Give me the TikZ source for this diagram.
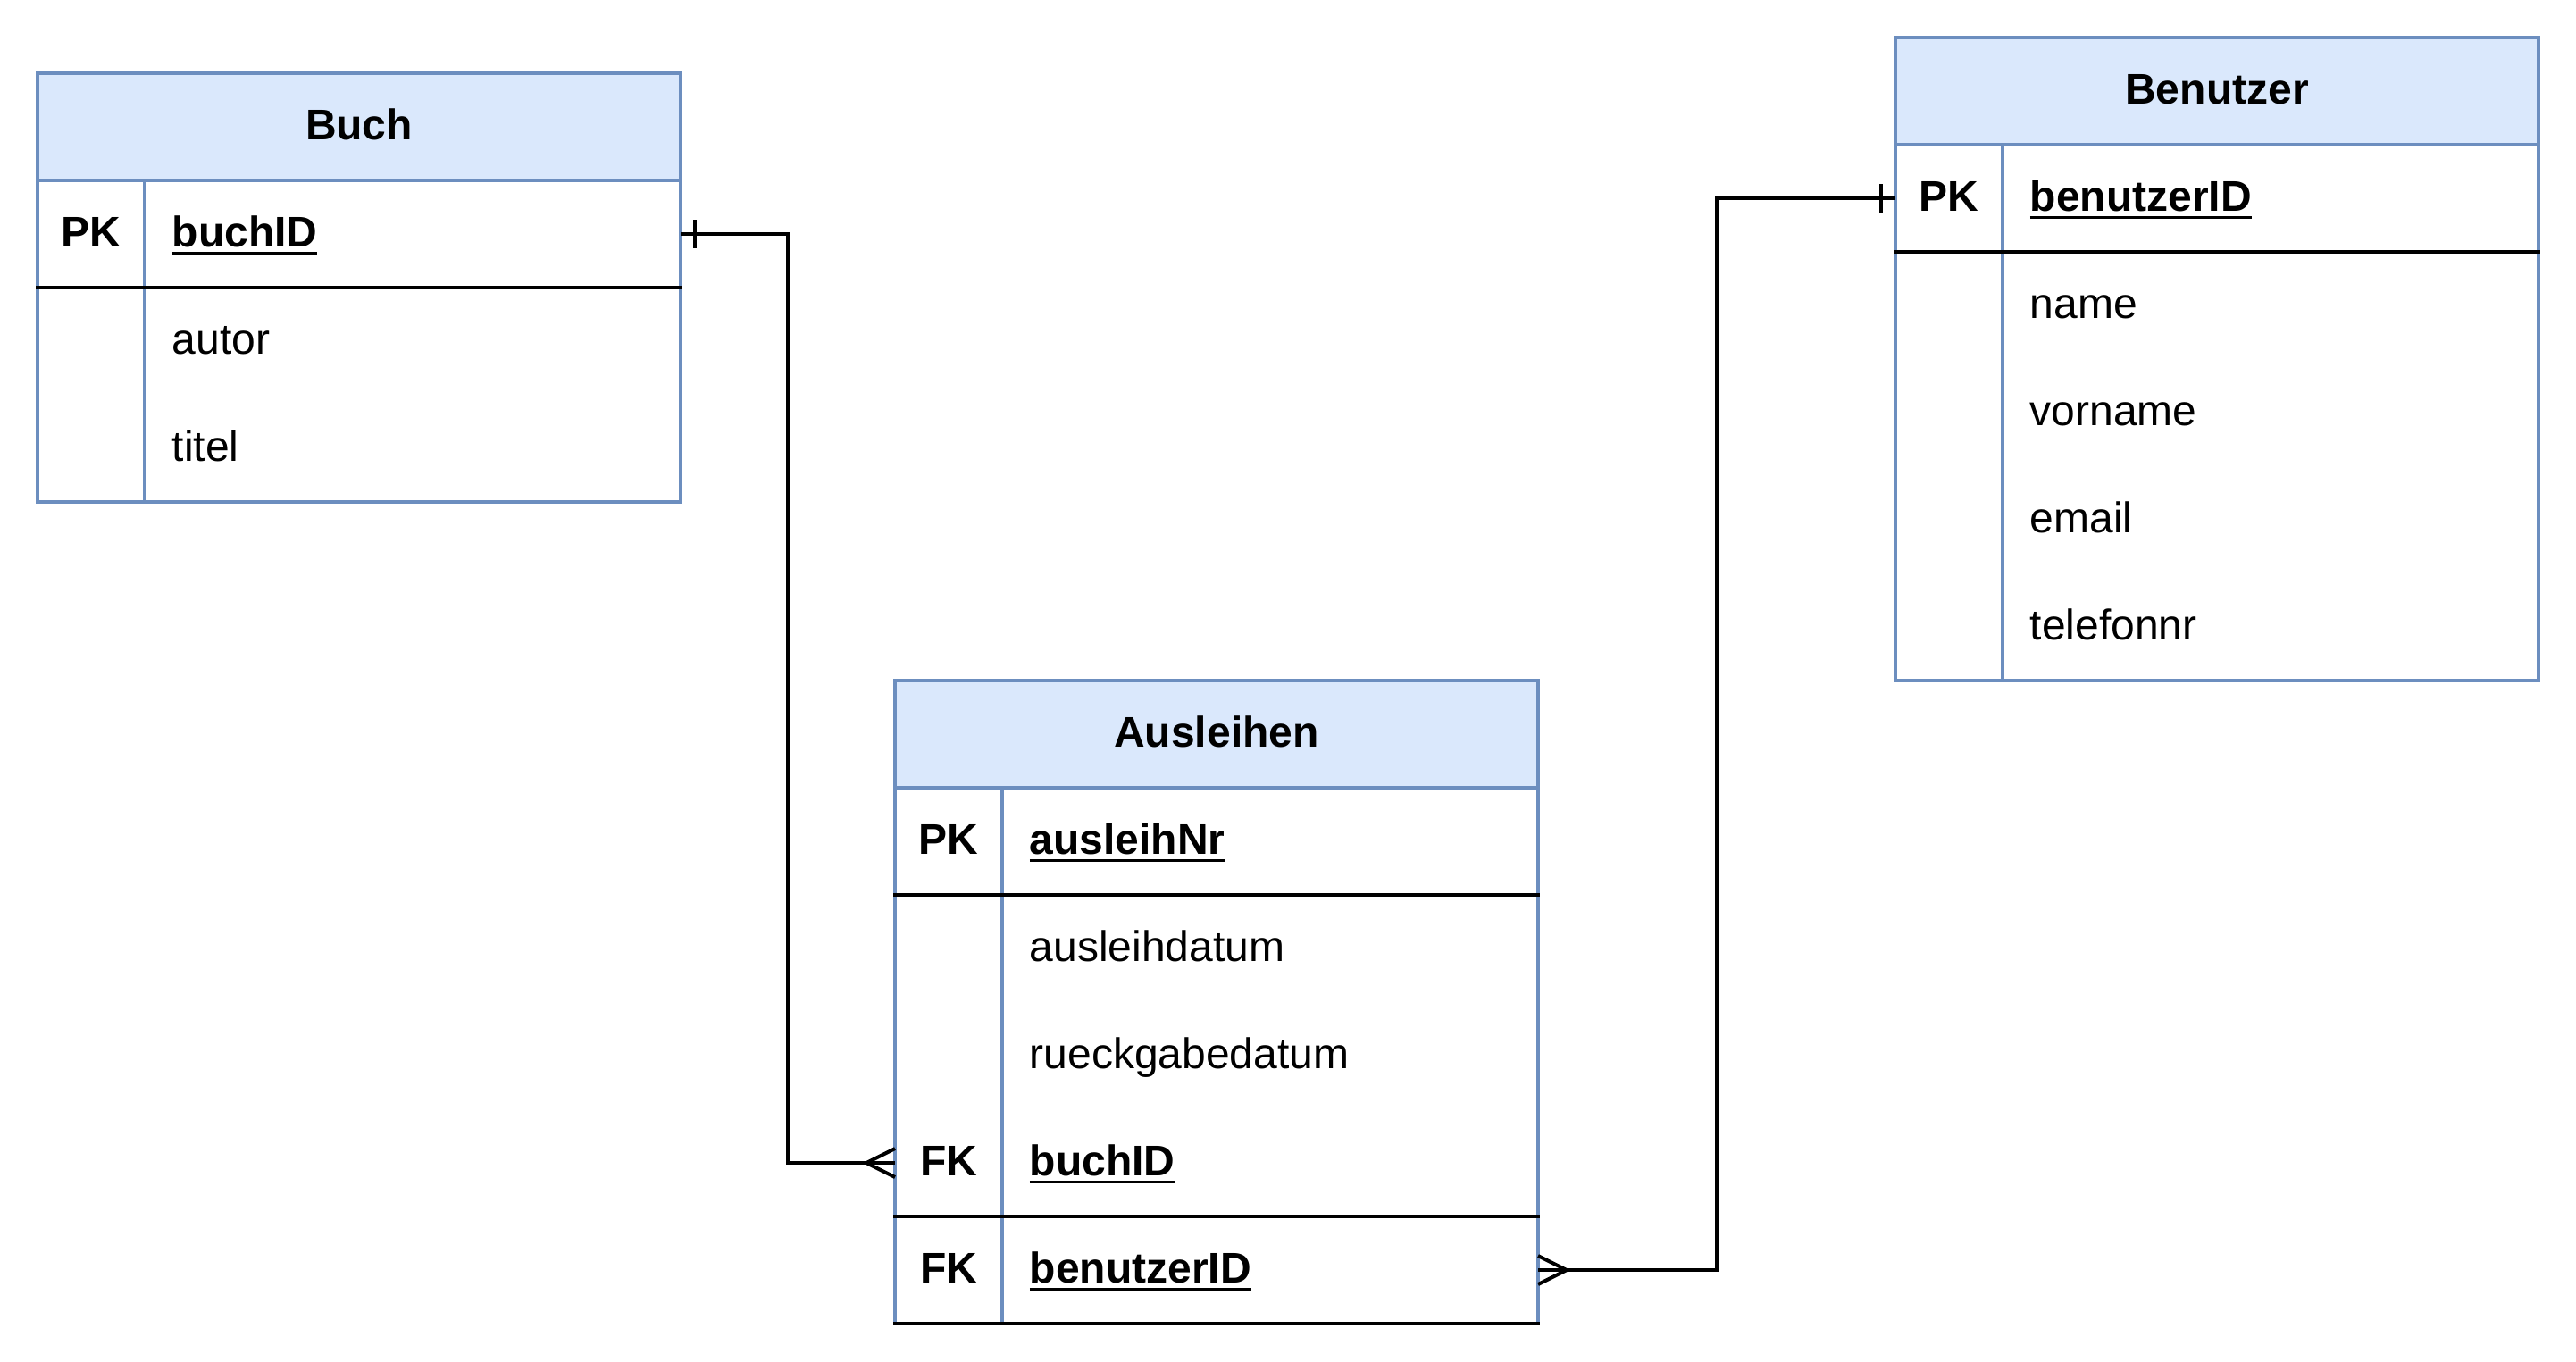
\documentclass[tikz,border=0pt]{standalone}
\usepackage{fontspec}
\setmainfont{Liberation Sans}
\definecolor{erblue}{HTML}{6C8EBF}
\definecolor{erfill}{HTML}{DAE8FC}
\newcommand\ulbox[1]{\setbox0\hbox{#1}\rlap{\rule[-2.2pt]{\wd0}{0.75pt}}\box0}
\tikzset{
  hdr/.style={draw=erblue, fill=erfill, line width=1pt, minimum width=180pt, minimum height=30pt, inner sep=0pt, outer sep=0pt, anchor=north west},
  rowbox/.style={minimum width=180pt, minimum height=30pt, inner sep=0pt, outer sep=0pt, anchor=north west},
  titletxt/.style={font=\fontsize{12}{14.4}\selectfont\bfseries, anchor=base, inner sep=0pt},
  keytxt/.style={font=\fontsize{12}{14.4}\selectfont\bfseries, anchor=base, inner sep=0pt},
  attrtxt/.style={font=\fontsize{12}{14.4}\selectfont, anchor=base west, inner sep=0pt},
  pktxt/.style={font=\fontsize{12}{14.4}\selectfont\bfseries, anchor=base west, inner sep=0pt},
  outline/.style={draw=erblue, line width=1pt},
  sepline/.style={draw=black, line width=1pt},
  conn/.style={draw=black, line width=1pt},
}
\begin{document}
\begin{tikzpicture}[x=1pt, y=-1pt]
\useasboundingbox (0,0) rectangle (721,381);

% ---------- Buch ----------
\node[hdr] (buchH) at (10.5,20.5) {};
\node[rowbox] (buchPK) at (10.5,50.5) {};
\node[rowbox] (buchR2) at (10.5,80.5) {};
\node[rowbox] (buchR3) at (10.5,110.5) {};
\draw[outline] (10.5,20.5) rectangle (190.5,140.5);
\draw[outline] (40.5,50.5) -- (40.5,140.5);
\draw[sepline] (10,80.5) -- (191,80.5);
\node[titletxt] (buchT) at (100.5,39.0) {Buch};
\node[keytxt] (buchPKk) at (25.5,69.0) {PK};
\node[pktxt] (buchPKa) at (48,69.0) {\ulbox{buchID}};
\node[attrtxt] (buchA2) at (48,99.0) {autor};
\node[attrtxt] (buchA3) at (48,129.0) {titel};

% ---------- Benutzer ----------
\node[hdr] (benH) at (530.5,10.5) {};
\node[rowbox] (benPK) at (530.5,40.5) {};
\draw[outline] (530.5,10.5) rectangle (710.5,190.5);
\draw[outline] (560.5,40.5) -- (560.5,190.5);
\draw[sepline] (530,70.5) -- (711,70.5);
\node[titletxt] (benT) at (620.5,29.0) {Benutzer};
\node[keytxt] (benPKk) at (545.5,59.0) {PK};
\node[pktxt] (benPKa) at (568,59.0) {\ulbox{benutzerID}};
\node[attrtxt] (benA2) at (568,89.0) {name};
\node[attrtxt] (benA3) at (568,119.0) {vorname};
\node[attrtxt] (benA4) at (568,149.0) {email};
\node[attrtxt] (benA5) at (568,179.0) {telefonnr};

% ---------- Ausleihen ----------
\node[hdr] (ausH) at (250.5,190.5) {};
\node[rowbox] (ausPK) at (250.5,220.5) {};
\node[rowbox] (ausBuch) at (250.5,310.5) {};
\node[rowbox] (ausBen) at (250.5,340.5) {};
\draw[outline] (250.5,190.5) rectangle (430.5,370.5);
\draw[outline] (280.5,220.5) -- (280.5,370.5);
\draw[sepline] (250,250.5) -- (431,250.5);
\draw[sepline] (250,340.5) -- (431,340.5);
\draw[sepline] (250,370.5) -- (431,370.5);
\node[titletxt] (ausT) at (340.5,209.0) {Ausleihen};
\node[keytxt] (ausPKk) at (265.5,239.0) {PK};
\node[pktxt] (ausPKa) at (288,239.0) {\ulbox{ausleihNr}};
\node[attrtxt] (ausA2) at (288,269.0) {ausleihdatum};
\node[attrtxt] (ausA3) at (288,299.0) {rueckgabedatum};
\node[keytxt] (ausFK1k) at (265.5,329.0) {FK};
\node[pktxt] (ausFK1a) at (288,329.0) {\ulbox{buchID}};
\node[keytxt] (ausFK2k) at (265.5,359.0) {FK};
\node[pktxt] (ausFK2a) at (288,359.0) {\ulbox{benutzerID}};

% ---------- Connectors ----------
\draw[conn] (buchPK.east) -- ++(30pt,0pt) |- (ausBuch.west);
\draw[conn] ([xshift=4pt,yshift=4pt]buchPK.east) -- ([xshift=4pt,yshift=-4pt]buchPK.east);
\draw[conn] ([yshift=4pt]ausBuch.west) -- ([xshift=-8pt]ausBuch.west) -- ([yshift=-4pt]ausBuch.west);

\draw[conn] (ausBen.east) -- ++(50pt,0pt) |- (benPK.west);
\draw[conn] ([yshift=4pt]ausBen.east) -- ([xshift=8pt]ausBen.east) -- ([yshift=-4pt]ausBen.east);
\draw[conn] ([xshift=-4pt,yshift=4pt]benPK.west) -- ([xshift=-4pt,yshift=-4pt]benPK.west);
\end{tikzpicture}
\end{document}
